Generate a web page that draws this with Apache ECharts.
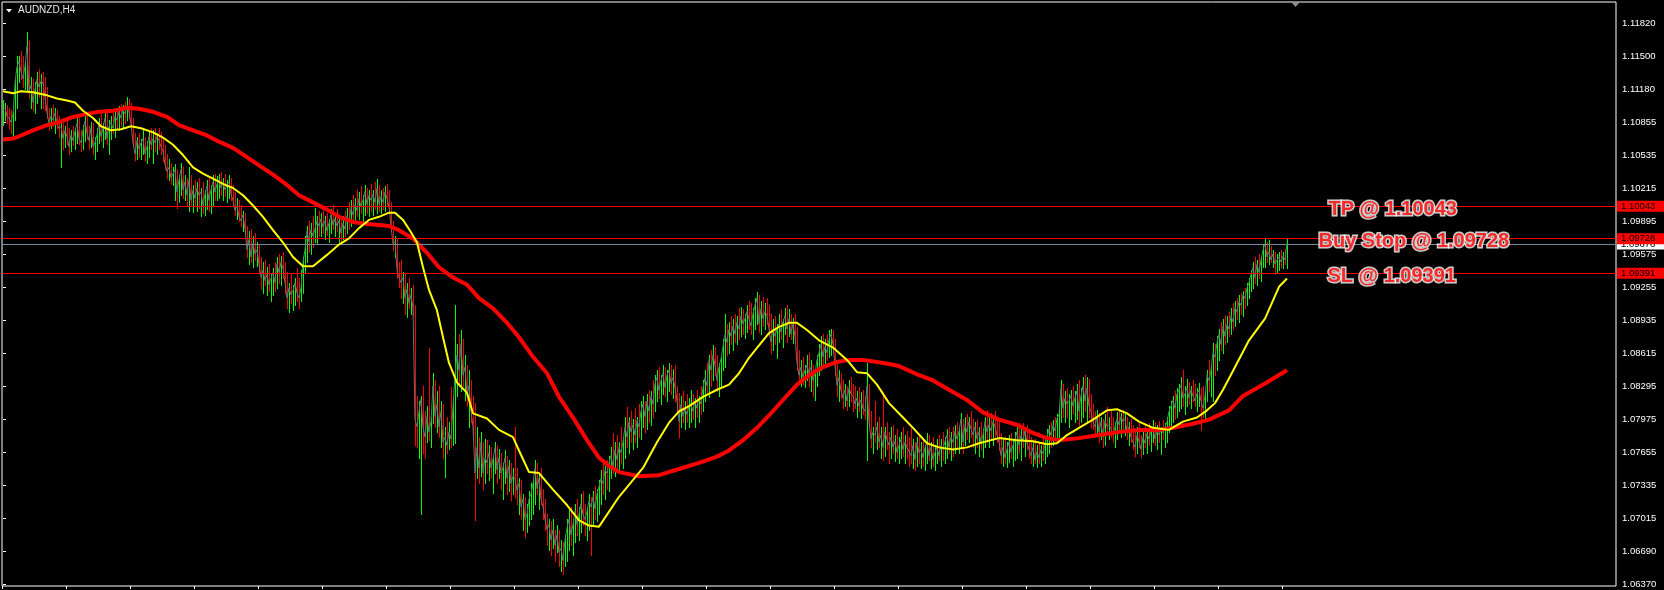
<!DOCTYPE html>
<html>
<head>
<meta charset="utf-8">
<script src="https://cdn.jsdelivr.net/npm/echarts@6/dist/echarts.min.js"></script>
<style>
html,body{margin:0;padding:0;background:#000;}
#chart{width:1664px;height:590px;}
</style>
</head>
<body>
<div id="chart"></div>
<script>
// Prices are stored in points above 1.0000 (price = 1 + value / 10000), one entry per H4 bar.
const closes = [
1098,1100,1092,1090,1086,1094,1124,1140,1145,1135,
1128,1140,1160,1115,1122,1105,1118,1128,1120,1126,
1124,1110,1095,1085,1092,1088,1095,1084,1080,1082,
1070,1078,1072,1062,1074,1068,1077,1085,1070,1066,
1078,1087,1075,1068,1080,1062,1066,1074,1085,1072,
1080,1090,1070,1082,1086,1080,1092,1088,1096,1090,
1098,1094,1102,1096,1084,1066,1055,1068,1060,1066,
1070,1055,1062,1072,1064,1070,1066,1072,1068,1062,
1058,1045,1038,1042,1032,1036,1040,1018,1030,1040,
1020,1028,1015,1030,1010,1020,1012,1022,1015,1018,
1005,1016,1024,1010,1020,1028,1018,1026,1030,1022,
1028,1020,1025,1028,1016,1010,1000,1005,994,990,
996,982,962,972,955,968,958,962,948,935,
942,932,938,928,934,940,930,948,940,950,
944,930,915,925,918,922,930,920,915,925,
950,962,980,970,982,975,976,990,985,992,
984,990,980,988,996,986,992,985,990,978,
988,982,995,990,1002,996,1006,1000,1012,1004,
1010,1018,1006,1015,1010,1016,1008,1022,1006,1014,
1008,1018,1012,1004,985,968,970,942,935,930,
935,915,924,910,918,905,797,790,805,817,
790,780,800,785,795,830,800,812,790,805,
775,780,772,785,778,810,840,860,845,870,
840,848,820,830,805,790,745,770,750,775,
745,760,755,765,750,758,770,748,760,745,
750,760,740,752,735,742,740,728,735,712,
720,700,705,720,725,735,750,730,740,720,
712,700,690,695,680,690,675,685,668,672,
660,680,692,700,685,695,708,695,705,715,
705,700,708,718,712,722,710,725,732,740,
735,748,745,755,762,752,768,758,770,765,
775,790,780,795,785,792,782,796,790,805,
812,800,815,805,820,812,832,838,825,835,
842,828,840,845,832,838,828,815,795,812,
800,808,802,810,812,805,815,808,818,812,
828,838,830,855,845,860,850,835,848,856,
868,880,872,885,878,888,880,892,885,898,
890,895,902,895,888,900,908,915,890,905,
895,902,898,885,872,885,878,885,890,882,
892,898,885,895,880,890,878,852,840,848,
838,845,850,842,848,835,842,855,862,870,
858,868,862,875,880,870,850,830,838,825,
818,826,815,828,822,820,812,818,810,816,
808,805,830,795,778,785,782,790,775,782,
770,785,778,772,780,770,776,765,772,778,
768,775,770,766,762,772,758,775,765,768,
760,770,775,762,770,758,765,770,762,772,
768,776,782,770,780,775,786,778,785,798,
775,792,785,795,788,782,790,778,785,775,
782,795,785,792,786,795,790,782,775,762,
770,760,768,775,765,772,778,785,772,782,
776,786,774,768,762,770,758,766,760,768,
764,772,780,788,782,792,786,798,802,828,
808,818,812,815,820,810,818,825,805,820,
830,815,828,810,805,795,790,800,785,795,
780,796,790,792,788,782,790,798,792,800,
795,798,784,790,780,775,770,782,776,768,
780,774,784,778,786,790,778,786,782,788,
784,790,795,805,810,816,808,822,826,830,
818,822,828,818,826,820,815,822,826,815,
808,820,840,835,845,862,858,872,880,870,
888,878,890,885,898,892,906,902,912,908,
918,915,925,930,938,945,935,948,940,952,
962,968,955,960,952,958,948,952,955,950,
956,952,968
];
const highs = [
1107,1105,1103,1100,1098,1096,1128,1150,1150,1155,
1150,1145,1174,1166,1130,1128,1125,1135,1138,1133,
1135,1130,1120,1100,1100,1103,1100,1098,1092,1088,
1085,1082,1088,1080,1078,1082,1080,1090,1090,1078,
1083,1092,1095,1082,1086,1085,1072,1080,1090,1095,
1085,1098,1095,1088,1092,1095,1096,1100,1102,1104,
1103,1106,1110,1108,1105,1090,1075,1072,1075,1070,
1078,1072,1068,1076,1080,1078,1080,1075,1080,1076,
1070,1064,1055,1050,1046,1042,1045,1040,1035,1046,
1042,1035,1032,1042,1035,1025,1030,1028,1032,1022,
1028,1020,1030,1032,1025,1035,1036,1034,1036,1038,
1032,1036,1030,1035,1032,1025,1018,1012,1010,1005,
1000,998,985,980,982,975,978,970,968,955,
950,952,945,948,938,944,950,955,958,956,
960,950,940,930,938,928,935,944,935,942,
955,975,985,990,988,995,1003,995,1000,998,
1000,995,998,992,1002,1005,998,1002,995,994,
995,1000,1003,1008,1010,1015,1012,1020,1018,1024,
1015,1025,1022,1020,1026,1020,1028,1031,1025,1020,
1022,1024,1026,1020,1008,990,975,972,950,952,
940,938,930,935,925,928,908,820,815,820,
830,805,810,867,800,842,835,825,830,815,
812,790,800,795,829,820,908,870,880,884,
875,860,850,845,835,820,813,790,780,785,
770,778,777,772,770,760,775,772,768,765,
755,767,762,758,755,750,790,750,740,738,
725,722,715,728,735,740,758,755,745,750,
730,720,705,700,698,700,690,695,690,680,
678,685,700,710,712,700,715,720,712,725,
728,715,712,725,722,728,732,730,738,748,
755,752,758,762,770,784,775,782,775,790,
780,800,809,800,805,798,808,800,812,815,
820,815,822,826,825,835,840,845,848,840,
850,848,845,852,850,846,850,830,823,820,
825,815,822,818,826,822,818,826,820,830,
835,845,852,860,865,869,868,860,852,860,
875,900,890,892,898,895,900,898,905,906,
904,900,908,912,910,905,915,921,918,912,
916,910,915,908,900,895,898,890,900,903,
895,905,908,904,900,896,900,887,865,855,
858,850,860,862,855,850,845,860,870,878,
880,875,880,884,885,884,875,852,845,842,
835,832,830,835,838,832,830,825,829,824,
826,820,852,832,805,790,815,795,800,790,
823,790,795,785,790,792,782,788,780,785,
790,782,786,780,790,778,775,780,782,775,
778,772,784,782,775,780,772,778,782,778,
785,780,788,790,785,790,792,795,790,803,
798,800,802,800,805,798,795,797,790,795,
788,800,806,800,803,800,805,800,795,784,
778,780,775,782,784,778,785,790,794,788,
794,790,792,785,780,776,778,772,775,772,
780,778,788,792,795,797,800,802,808,835,
832,825,828,822,826,830,825,832,835,828,
838,840,838,836,822,812,805,806,803,800,
798,802,809,800,806,800,795,804,806,803,
806,802,800,795,798,792,785,790,794,782,
786,792,788,794,790,797,795,792,796,790,
797,794,800,810,815,820,825,828,832,838,
845,830,836,834,830,835,832,828,833,828,
830,826,845,855,850,871,870,878,885,892,
895,899,898,902,905,910,912,915,918,920,
922,925,930,935,942,950,955,952,958,955,
968,972,970,971,966,962,960,958,960,962,
960,963,972
];
const lows = [
1083,1088,1085,1080,1075,1070,1088,1100,1125,1128,
1120,1118,1117,1109,1100,1098,1095,1105,1110,1100,
1100,1098,1090,1078,1080,1082,1075,1080,1072,1042,
1060,1062,1065,1055,1058,1064,1060,1066,1065,1058,
1060,1068,1070,1060,1062,1055,1050,1058,1066,1068,
1062,1070,1065,1055,1070,1075,1072,1080,1078,1082,
1080,1085,1088,1090,1080,1062,1049,1050,1052,1050,
1055,1048,1046,1052,1060,1046,1058,1055,1060,1055,
1048,1040,1032,1030,1026,1025,1010,1003,1008,1015,
1012,1010,1005,1000,1005,999,1005,1000,1003,995,
998,996,1002,1000,998,1005,1010,1010,1012,1015,
1010,1014,1008,1012,1010,1005,996,992,990,985,
980,975,955,948,950,945,952,946,940,925,
920,928,918,922,912,918,922,925,930,928,
935,920,905,902,910,903,908,912,905,912,
920,940,950,960,958,965,970,968,975,975,
978,972,976,970,978,982,975,980,970,968,
972,975,978,982,985,990,988,995,992,998,
990,996,998,995,1000,996,1002,998,1000,998,
1002,1000,1005,1000,980,962,955,935,926,915,
910,900,897,905,900,898,772,770,760,705,
765,760,775,777,770,794,790,785,780,770,
760,741,765,768,770,772,774,820,830,825,
830,816,810,790,795,780,699,740,735,742,
730,735,745,738,740,726,745,735,740,730,
720,735,725,728,719,725,722,715,705,700,
690,683,688,695,700,705,715,725,710,715,
700,690,675,670,665,672,660,668,655,650,
647,655,660,670,675,665,678,685,680,688,
695,685,680,690,665,695,700,698,705,715,
725,720,730,728,740,745,742,750,745,755,
750,760,770,765,775,768,775,770,780,778,
790,785,788,795,792,800,805,815,818,812,
822,820,815,825,822,818,815,805,780,790,
795,788,795,790,795,798,790,800,795,802,
805,815,822,819,830,835,840,825,820,830,
845,848,860,862,870,865,872,870,875,878,
880,876,882,885,880,875,885,890,882,880,
888,885,890,878,862,865,870,857,872,875,
868,880,872,878,875,871,874,845,835,830,
832,829,835,830,825,820,816,830,840,845,
850,852,855,858,860,862,840,820,815,818,
808,810,806,810,815,805,808,800,805,799,
802,798,758,790,770,765,775,768,770,760,
758,762,768,755,760,765,757,760,755,760,
762,755,760,752,755,750,748,752,755,750,
752,748,755,758,750,752,748,755,758,752,
758,755,760,765,758,762,765,770,765,770,
765,772,778,775,780,770,765,770,762,768,
761,770,775,770,778,772,780,775,767,755,
752,755,751,756,760,752,758,760,765,758,
770,762,768,760,755,752,755,751,755,752,
758,755,762,765,770,772,778,775,780,795,
800,795,800,790,798,802,795,798,792,795,
800,805,795,800,790,788,780,782,775,778,
770,772,785,778,780,775,770,778,785,780,
788,782,778,772,775,768,762,765,770,761,
764,770,765,772,766,775,772,768,775,764,
778,770,775,785,790,795,798,800,805,808,
810,802,810,812,808,815,810,805,810,787,
800,798,815,825,820,815,840,845,855,865,
862,870,872,878,880,885,888,895,892,900,
898,905,908,915,922,925,930,928,935,932,
945,945,950,948,950,945,938,940,942,945,
944,948,944
];
const firstOpen = 1090;

// Yellow moving average: bar index and value (points above 1.0000)
const yellowBars = [0,5,9,15,22,27,32,36,40,45,49,54,59,64,69,75,80,85,90,95,100,105,110,115,120,125,130,135,140,145,150,155,162,168,173,178,183,188,193,196,200,204,207,210,213,217,220,223,227,232,235,242,248,255,258,263,268,275,282,288,293,298,308,320,327,333,338,343,350,357,363,368,373,378,383,388,393,397,402,408,415,422,427,432,437,443,450,455,462,468,475,482,488,498,507,515,522,527,532,538,545,552,557,562,568,575,583,590,597,602,606,610,613,623,631,638,642];
const yellowVals = [1116,1114,1116,1115,1112,1109,1107,1105,1097,1090,1082,1078,1079,1082,1080,1076,1071,1064,1054,1042,1036,1031,1026,1022,1015,1005,994,981,969,955,946,946,957,967,973,983,991,994,998,998,991,979,969,945,923,903,877,852,833,823,803,798,787,780,767,746,745,729,714,699,694,693,722,750,775,794,805,810,819,826,831,842,857,869,881,887,891,891,884,874,867,855,843,842,831,813,799,789,774,770,768,770,774,779,777,776,773,774,782,789,797,806,807,803,795,789,787,795,799,806,813,826,837,874,895,926,934];

// Red (slow) moving average
const redBars = [0,5,9,15,22,28,35,42,48,55,62,68,75,82,88,95,102,108,115,122,128,135,142,148,155,162,168,175,182,188,193,198,205,212,218,225,232,238,245,252,258,265,272,278,285,292,298,303,308,318,328,338,348,357,363,370,377,383,390,397,403,410,417,423,430,437,443,448,457,465,473,482,490,498,507,515,522,528,538,548,558,568,578,585,595,603,613,620,631,642];
const redVals = [1069,1070,1073,1078,1083,1086,1091,1094,1096,1097,1100,1099,1096,1091,1083,1078,1073,1067,1061,1052,1044,1035,1025,1015,1008,1001,994,989,987,986,985,981,973,959,945,935,928,915,905,891,877,858,842,819,799,777,760,752,746,742,743,749,755,761,767,777,789,801,816,831,840,848,853,855,855,853,851,849,841,835,826,816,804,797,792,784,779,777,779,782,785,787,787,789,793,797,806,820,832,845];

// Right price scale labels
const priceTicks = [1.11820,1.11500,1.11180,1.10855,1.10535,1.10215,1.09895,1.09575,1.09255,1.08935,1.08615,1.08295,1.07975,1.07655,1.07335,1.07015,1.06690,1.06370];
// Time-axis tick marks (bar positions)
const timeTicks = [-0.5,31.5,63.5,95.5,127.5,159.5,191.5,223.5,255.5,287.5,319.5,351.5,383.5,415.5,447.5,479.5,511.5,543.5,575.5,607.5,639.5];

// Horizontal price levels (bid line first, order levels on top)
const levelPrices = [1.09676, 1.10043, 1.09728, 1.09391];
const levelColors = ['#778899', '#ff0000', '#ff0000', '#ff0000'];
const levelLabelBg = ['#ffffff', '#ff0000', '#ff0000', '#ff0000'];

// Text annotations
const noteTexts = ['TP @ 1.10043', 'Buy Stop @ 1.09728', 'SL @ 1.09391'];
const notePrices = [1.10043, 1.09728, 1.09391];
const noteBars = [662.5, 657.5, 662];

const symbolName = 'AUDNZD,H4';

const toPrice = v => 1 + v / 10000;
const n = Math.min(closes.length, highs.length, lows.length);
const barData = [];
for (let i = 0; i < n; i++) {
  const o = i === 0 ? firstOpen : closes[i - 1];
  barData.push([i, toPrice(highs[i]), toPrice(lows[i]), toPrice(o), toPrice(closes[i])]);
}
const closeData = closes.slice(0, n).map((c, i) => [i, toPrice(c)]);
const yellowData = yellowBars.map((b, k) => [b, toPrice(yellowVals[k])]);
const redData = redBars.map((b, k) => [b, toPrice(redVals[k])]);

const chart = echarts.init(document.getElementById('chart'), null, {renderer: 'canvas'});
const axisFont = '"Liberation Sans", Arial, sans-serif';

chart.setOption({
  backgroundColor: '#000000',
  animation: false,
  grid: {left: 2, right: 48, top: 2, bottom: 4, show: true, borderColor: '#ffffff', borderWidth: 1, backgroundColor: 'transparent'},
  xAxis: {
    type: 'value', min: -0.5, max: 806.5,
    axisLine: {show: false},
    splitLine: {show: false},
    axisTick: {show: true, inside: false, length: 3, lineStyle: {color: '#ffffff'}, customValues: timeTicks},
    axisLabel: {show: false, customValues: timeTicks}
  },
  yAxis: {
    type: 'value', position: 'right', scale: true,
    min: 1.063533, max: 1.120269,
    axisLine: {show: false},
    splitLine: {show: false},
    axisTick: {show: true, inside: false, length: 3, lineStyle: {color: '#ffffff'}, customValues: priceTicks},
    axisLabel: {
      show: true, customValues: priceTicks, margin: 6,
      color: '#ffffff', fontSize: 9.5, fontFamily: axisFont,
      formatter: v => v.toFixed(5)
    }
  },
  graphic: [
    {type: 'polygon', shape: {points: [[6, 9], [12, 9], [9, 12.5]]}, style: {fill: '#ffffff'}, z: 20},
    {type: 'text', x: 18, y: 10.5, style: {text: symbolName, fill: '#e6e6e6', font: '10px "Liberation Sans", Arial, sans-serif', textVerticalAlign: 'middle'}, z: 20},
    {type: 'polygon', shape: {points: [[1291, 2], [1300, 2], [1295.5, 7]]}, style: {fill: '#8c8c8c'}, z: 20}
  ],
  series: [
    {
      type: 'custom', name: 'bars', z: 2, silent: true,
      encode: {x: 0, y: [1, 2]},
      data: barData,
      renderItem: function (params, api) {
        const i = api.value(0), hi = api.value(1), lo = api.value(2), op = api.value(3), cl = api.value(4);
        const top = api.coord([i, Math.max(hi, op, cl)]);
        const bot = api.coord([i, Math.min(lo, op, cl)]);
        const x = Math.floor(top[0]);
        const y1 = Math.round(top[1]);
        const y2 = Math.round(bot[1]);
        return {
          type: 'rect',
          shape: {x: x, y: y1, width: 1, height: Math.max(1, y2 - y1 + 1)},
          style: {fill: cl >= op ? '#00ff00' : '#ff0000'}
        };
      }
    },
    {
      type: 'line', name: 'close', z: 3, silent: true,
      data: closeData, showSymbol: false, symbol: 'none',
      lineStyle: {color: '#5c7c74', width: 1},
      markLine: {
        silent: true, symbol: ['none', 'none'], precision: 5,
        data: levelPrices.map((p, k) => ({
          yAxis: p,
          lineStyle: {color: levelColors[k], width: 1, type: 'solid'},
          label: {
            show: true, position: 'end', distance: 1,
            formatter: p.toFixed(5),
            color: '#000000', backgroundColor: levelLabelBg[k],
            fontSize: 9.5, fontFamily: axisFont, lineHeight: 11,
            padding: [0, 9, 0, 4]
          }
        }))
      }
    },
    {
      type: 'line', name: 'slowMA', z: 4, silent: true,
      data: redData, showSymbol: false, symbol: 'none',
      lineStyle: {color: '#ff0000', width: 4}
    },
    {
      type: 'line', name: 'fastMA', z: 5, silent: true,
      data: yellowData, showSymbol: false, symbol: 'none',
      lineStyle: {color: '#ffff00', width: 2}
    },
    {
      type: 'scatter', name: 'notes', z: 10, silent: true,
      symbolSize: 1, itemStyle: {color: 'rgba(0,0,0,0)'},
      data: notePrices.map((p, k) => [noteBars[k], p]),
      label: {
        show: true, position: 'right', distance: 0, offset: [0, 3],
        formatter: params => noteTexts[params.dataIndex],
        color: '#ff0000', fontSize: 20, fontWeight: 'bold',
        fontFamily: '"Liberation Sans", Arial, sans-serif',
        textBorderColor: '#ffffff', textBorderWidth: 3
      }
    }
  ]
});
</script>
</body>
</html>
